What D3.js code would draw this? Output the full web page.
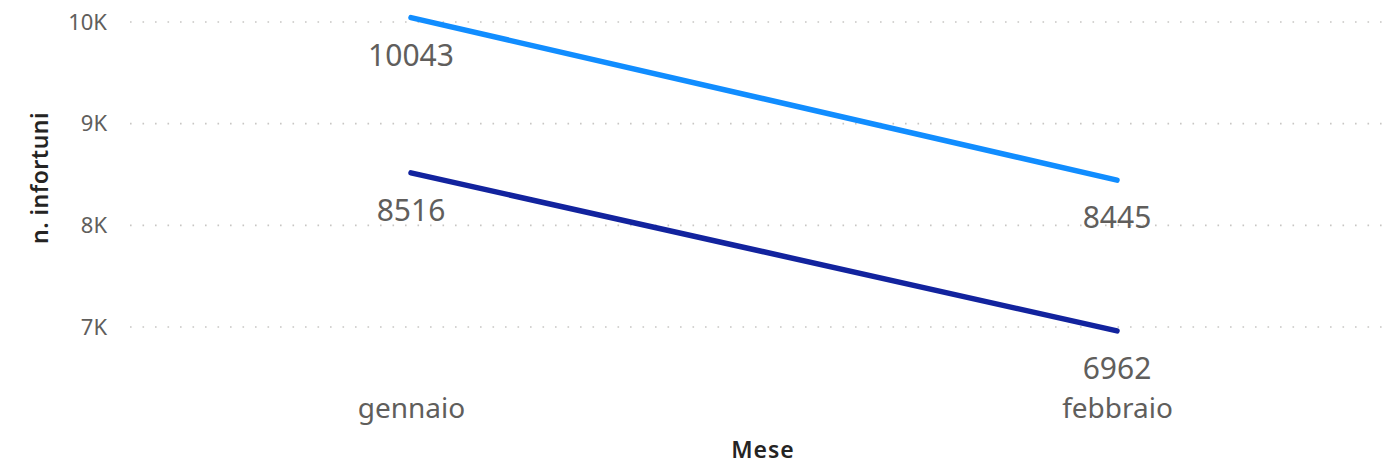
<!DOCTYPE html>
<html>
<head>
<meta charset="utf-8">
<script src="https://cdn.jsdelivr.net/npm/d3@7"></script>
<style>
  html, body { margin: 0; padding: 0; background: #fff; }
  svg { display: block; }
  text { font-family: "Noto Sans", "Open Sans", sans-serif; }
</style>
</head>
<body>
<svg id="chart" width="1388" height="464"></svg>
<script>
const categories = ["gennaio", "febbraio"];
const seriesA = [10043, 8445];
const seriesB = [8516, 6962];
const yTicks = [7000, 8000, 9000, 10000];
const yTickLabels = ["7K", "8K", "9K", "10K"];
const xTitle = "Mese";
const yTitle = "n. infortuni";

const W = 1388, H = 464;
const svg = d3.select("#chart");

const y = d3.scaleLinear().domain([7000, 10000]).range([327, 22]);
const x = d3.scalePoint().domain(categories).range([411, 1117]).padding(0);

// gridlines
const grid = svg.append("g");
grid.selectAll("line").data(yTicks).join("line")
  .attr("x1", 130).attr("x2", 1385)
  .attr("y1", d => y(d)).attr("y2", d => y(d))
  .attr("stroke", "#C8C6C4")
  .attr("stroke-width", 1.6)
  .attr("stroke-dasharray", "1.6 10.9");

// y axis tick labels
const yAxis = d3.axisLeft(y).tickValues(yTicks)
  .tickFormat((d, i) => yTickLabels[i]).tickSize(0).tickPadding(0);
const yg = svg.append("g").attr("transform", "translate(107,0)").call(yAxis);
yg.select(".domain").remove();
yg.selectAll("text").attr("fill", "#605E5C").style("font-size", "22px")
  .style("font-family", "'Noto Sans', sans-serif");

// x axis category labels
const xAxis = d3.axisBottom(x).tickSize(0).tickPadding(0);
const xg = svg.append("g").attr("transform", "translate(0,418)").call(xAxis);
xg.select(".domain").remove();
xg.selectAll("text").attr("y", 0).attr("dy", 0).attr("fill", "#605E5C")
  .style("font-size", "28px")
  .style("font-family", "'Noto Sans', sans-serif");

// axis titles
svg.append("text").attr("x", 763).attr("y", 458).attr("text-anchor", "middle")
  .attr("fill", "#252423").style("font-size", "23px").style("font-weight", 600)
  .style("letter-spacing", "1px").text(xTitle);
svg.append("text").attr("transform", "translate(48,178) rotate(-90)")
  .attr("text-anchor", "middle")
  .attr("fill", "#252423").style("font-size", "23px").style("font-weight", 600)
  .style("letter-spacing", "0.5px").text(yTitle);

// lines
const line = d3.line().x((d, i) => x(categories[i])).y(d => y(d));
const series = [
  { values: seriesA, color: "#118DFF" },
  { values: seriesB, color: "#12239E" }
];
svg.append("g").selectAll("path").data(series).join("path")
  .attr("d", d => line(d.values))
  .attr("fill", "none")
  .attr("stroke", d => d.color)
  .attr("stroke-width", 5.5)
  .attr("stroke-linecap", "round");

// data labels
series.forEach(s => {
  svg.append("g").selectAll("text").data(s.values).join("text")
    .attr("x", (d, i) => x(categories[i]))
    .attr("y", d => y(d) + 48)
    .attr("text-anchor", "middle")
    .attr("fill", "#605E5C")
    .style("font-size", "30px")
    .text(d => d);
});
</script>
</body>
</html>
